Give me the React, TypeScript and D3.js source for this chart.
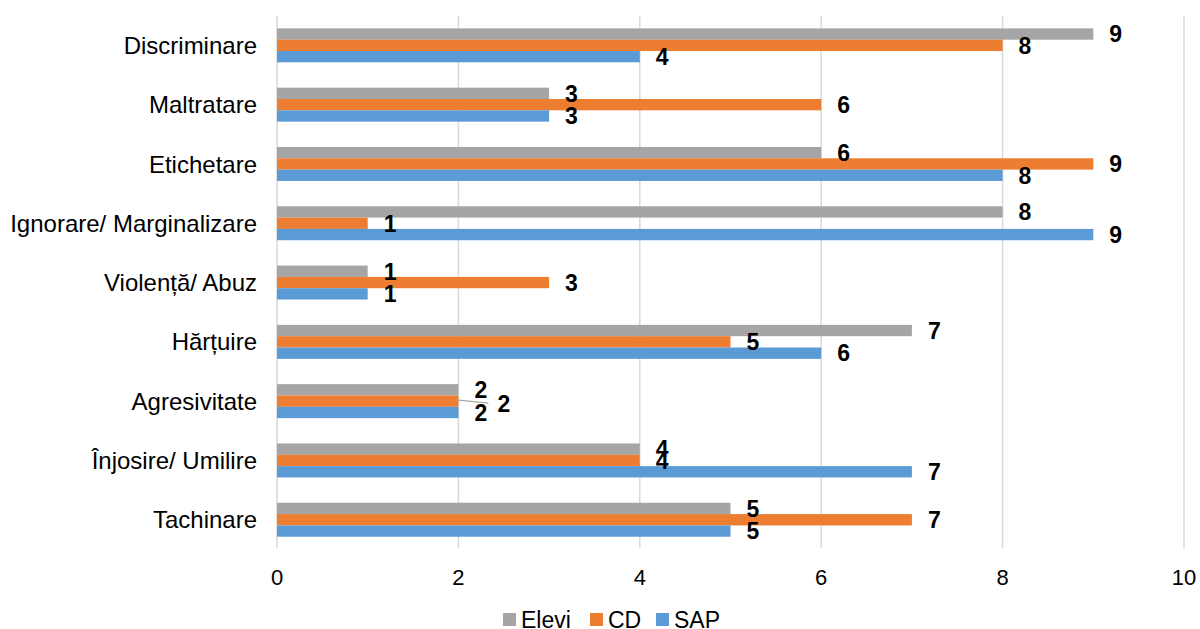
import React, { useRef, useEffect } from 'react';
import * as d3 from 'd3';

const CATEGORIES = [
    'Discriminare',
    'Maltratare',
    'Etichetare',
    'Ignorare/ Marginalizare',
    'Violență/ Abuz',
    'Hărțuire',
    'Agresivitate',
    'Înjosire/ Umilire',
    'Tachinare',
];

const SERIES = ['Elevi', 'CD', 'SAP'];
const ELEVI = [9, 3, 6, 8, 1, 7, 2, 4, 5];
const CD = [8, 6, 9, 1, 3, 5, 2, 4, 7];
const SAP = [4, 3, 8, 9, 1, 6, 2, 7, 5];
const X_TICKS = [0, 2, 4, 6, 8, 10];

const COLORS: Record<string, string> = {
    Elevi: '#A5A5A5',
    CD: '#ED7D31',
    SAP: '#5B9BD5',
};

const WIDTH = 1200;
const HEIGHT = 629;
const FONT = '"Liberation Sans", Arial, sans-serif';

export default function App() {
    const ref = useRef<SVGSVGElement>(null);

    useEffect(() => {
        if (!ref.current) return;
        const svg = d3.select(ref.current);
        svg.selectAll('*').remove();

        const values: Record<string, number[]> = { Elevi: ELEVI, CD: CD, SAP: SAP };
        const plot = { left: 277, right: 1184, top: 15.7, bottom: 549.4 };

        const x = d3.scaleLinear().domain([0, 10]).range([plot.left, plot.right]);
        const pad = 0.427;
        const y = d3.scaleBand<string>()
            .domain(CATEGORIES)
            .range([plot.top, plot.bottom])
            .paddingInner(pad)
            .paddingOuter(pad / 2);
        const ys = d3.scaleBand<string>().domain(SERIES).range([0, y.bandwidth()]);

        // gridlines
        svg.append('g')
            .selectAll('line')
            .data(X_TICKS)
            .join('line')
            .attr('x1', d => x(d))
            .attr('x2', d => x(d))
            .attr('y1', plot.top)
            .attr('y2', plot.bottom - 1.5)
            .attr('stroke', '#D9D9D9')
            .attr('stroke-width', 1.5);

        // x tick labels
        svg.append('g')
            .selectAll('text')
            .data(X_TICKS)
            .join('text')
            .attr('x', d => x(d))
            .attr('y', 585)
            .attr('text-anchor', 'middle')
            .style('font-family', FONT)
            .style('font-size', '22px')
            .attr('fill', '#000')
            .text(d => d);

        // category labels
        svg.append('g')
            .selectAll('text')
            .data(CATEGORIES)
            .join('text')
            .attr('x', 257)
            .attr('y', d => (y(d) ?? 0) + y.bandwidth() / 2)
            .attr('dy', '0.36em')
            .attr('text-anchor', 'end')
            .style('font-family', FONT)
            .style('font-size', '24px')
            .attr('fill', '#000')
            .text(d => d);

        const groups = svg.append('g')
            .selectAll('g')
            .data(CATEGORIES)
            .join('g')
            .attr('transform', d => `translate(0,${y(d)})`);

        groups.selectAll('rect')
            .data((_, i) => SERIES.map(s => ({ s, v: values[s][i] })))
            .join('rect')
            .attr('x', x(0))
            .attr('y', d => ys(d.s) ?? 0)
            .attr('width', d => x(d.v) - x(0))
            .attr('height', ys.bandwidth())
            .attr('fill', d => COLORS[d.s]);

        // data labels, moved aside when squeezed between neighbours
        const labelH = 17;
        groups.each(function (_, i) {
            const g = d3.select(this);
            const items = SERIES.map(s => {
                const v = values[s][i];
                const w = String(v).length * 13;
                return { s, v, x0: x(v) + 16, w, cy: (ys(s) ?? 0) + ys.bandwidth() / 2 };
            });
            const hit = (a: typeof items[0], b: typeof items[0]) =>
                a.x0 < b.x0 + b.w && b.x0 < a.x0 + a.w && Math.abs(a.cy - b.cy) < labelH;
            items.forEach((it, k) => {
                const prev = items[k - 1];
                const next = items[k + 1];
                let lx = it.x0;
                let ly = it.cy;
                if (prev && next && hit(it, prev) && hit(it, next)) {
                    lx = it.x0 + 23;
                    ly = it.cy + 3;
                    g.append('line')
                        .attr('x1', x(it.v))
                        .attr('y1', it.cy - 1)
                        .attr('x2', lx - 9)
                        .attr('y2', ly - 1)
                        .attr('stroke', '#A6A6A6')
                        .attr('stroke-width', 1.2);
                }
                g.append('text')
                    .attr('x', lx)
                    .attr('y', ly)
                    .attr('dy', '0.36em')
                    .style('font-family', FONT)
                    .style('font-size', '23px')
                    .style('font-weight', 'bold')
                    .attr('fill', '#000')
                    .text(it.v);
            });
        });

        // legend
        const legendX = [503, 590, 656];
        const legend = svg.append('g')
            .selectAll('g')
            .data(SERIES)
            .join('g')
            .attr('transform', (_, i) => `translate(${legendX[i]},613)`);
        legend.append('rect')
            .attr('width', 13)
            .attr('height', 13)
            .attr('fill', d => COLORS[d]);
        legend.append('text')
            .attr('x', 18)
            .attr('y', 15)
            .style('font-family', FONT)
            .style('font-size', '23px')
            .attr('fill', '#000')
            .text(d => d);
    }, []);

    return (
        <svg
            ref={ref}
            width={WIDTH}
            height={HEIGHT}
            style={{ position: 'absolute', left: 0, top: 0, background: '#fff' }}
        />
    );
}
